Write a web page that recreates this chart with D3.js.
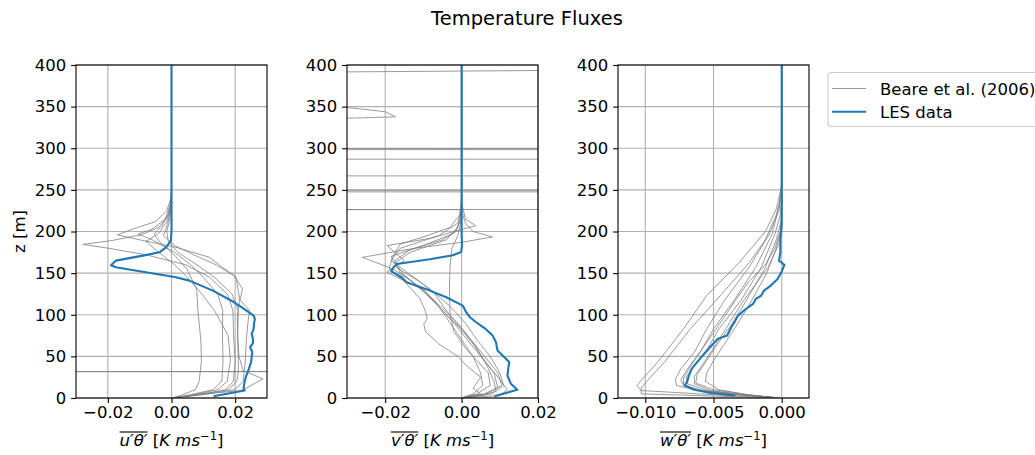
<!DOCTYPE html>
<html><head><meta charset="utf-8">
<script src="https://cdn.jsdelivr.net/npm/d3@7"></script>
<style>body{margin:0;background:#fff;} svg{display:block;font-family:"DejaVu Sans",sans-serif;}</style>
</head><body><svg id="c" width="1035" height="455"></svg>
<script>
// ---------- data ----------
const title = "Temperature Fluxes";
const zTicks = [0,50,100,150,200,250,300,350,400];
const uTicks = [-0.02,0.00,0.02];
const vTicks = [-0.02,0.00,0.02];
const wTicks = [-0.010,-0.005,0.000];
const uDomain = [-0.03,0.03];
const vDomain = [-0.03,0.02];
const wDomain = [-0.012,0.002];
const legendLabels = ["Beare et al. (2006)","LES data"];

// LES profiles [z, flux]
const lesU = [[2,0.0132],[9,0.023],[11,0.0226],[20,0.023],[27,0.0235],[35,0.0243],[43,0.025],[50,0.0252],[55,0.0254],[61,0.0247],[66,0.0256],[71,0.0256],[77,0.0252],[83,0.0258],[89,0.0259],[95,0.0262],[99,0.0258],[107,0.0228],[115,0.0197],[129,0.013],[141,0.0056],[145,0.0014],[157,-0.0175],[159.4,-0.019],[165,-0.0175],[171,-0.009],[175,-0.0038],[181,-0.0017],[189,-0.0002],[200,0],[400,0]];
const lesV = [[2.2,0.0086],[9.8,0.0146],[17,0.0129],[27,0.012],[35,0.0122],[43,0.0125],[49,0.0112],[57,0.0094],[67,0.009],[75,0.0081],[84,0.006],[91,0.0038],[97,0.0022],[103,0.0012],[111,0.0003],[121,-0.004],[129,-0.0083],[139,-0.0144],[145,-0.0157],[152,-0.0184],[156,-0.018],[161,-0.017],[166.6,-0.0083],[171.4,-0.0023],[175.4,-0.0001],[183.5,0.0001],[200,0],[400,0]];
const lesW = [[3,-0.0034],[6,-0.0052],[10,-0.0064],[15,-0.0071],[21,-0.0069],[27,-0.0068],[35,-0.0066],[47,-0.006],[60,-0.0053],[71,-0.0047],[75,-0.004],[85,-0.0037],[93,-0.0034],[99,-0.0032],[106,-0.0027],[113,-0.0021],[119,-0.0019],[123,-0.0015],[129,-0.0013],[135,-0.0008],[143,-0.0003],[152,0],[160,0.0002],[165,-0.0002],[175,-0.0001],[190,-0.0001],[210,0],[400,0]];

// Beare et al. (2006) profiles [z, flux]
const beareU1 = [[0,0.0005],[4,0.008],[9,0.022],[15,0.025],[23,0.0287],[33,0.0225],[50,0.0212],[70,0.0208],[99,0.0207],[115,0.0213],[131,0.0223],[147,0.0197],[160,0.014],[172,0.007],[183,0.001],[195,-0.0025],[210,-0.0012],[228,-0.0002],[245,0],[400,0]];
const beareU2 = [[0,0.0003],[4,0.009],[10,0.017],[20,0.0195],[45,0.020],[75,0.0195],[105,0.0193],[125,0.0175],[145,0.012],[160,0.0045],[172,-0.008],[180,-0.02],[184.5,-0.0278],[189,-0.019],[196,-0.0095],[205,-0.004],[218,-0.0012],[235,-0.0002],[250,0],[400,0]];
const beareU3 = [[0,0.0003],[4,0.0035],[10,0.0075],[20,0.0087],[45,0.0094],[70,0.0092],[105,0.0083],[131,0.0079],[155,0.0048],[171,0.0011],[187,-0.0036],[197,-0.0055],[207,-0.003],[222,-0.0008],[240,0],[400,0]];
const beareU4 = [[0,0.0004],[4,0.006],[10,0.013],[20,0.0158],[45,0.0162],[75,0.016],[105,0.0161],[125,0.0145],[145,0.01],[160,0.006],[175,0.001],[190,-0.006],[197,-0.0105],[203,-0.006],[215,-0.002],[232,-0.0004],[248,0],[400,0]];
const beareU5 = [[0,0.0004],[4,0.01],[10,0.02],[20,0.0225],[45,0.0232],[70,0.0235],[90,0.024],[105,0.0245],[118,0.0215],[128,0.021],[145,0.0203],[157,0.016],[169,0.0119],[181,0.0014],[190,-0.010],[196,-0.017],[203,-0.012],[212,-0.005],[225,-0.0015],[240,-0.0002],[250,0],[400,0]];
const beareU6 = [[0,0.0004],[4,0.007],[10,0.0145],[20,0.0175],[45,0.0185],[75,0.0178],[105,0.0135],[125,0.0095],[145,0.005],[160,0.001],[175,-0.004],[188,-0.008],[198,-0.004],[212,-0.0015],[230,0],[400,0]];
const beareU7 = [[0,0.0004],[4,0.008],[10,0.018],[20,0.0205],[31.66,0.021],[31.68,-0.5],[31.72,0.5],[31.74,0.021],[45,0.021],[75,0.0208],[105,0.021],[125,0.019],[145,0.0135],[160,0.008],[175,0.002],[188,-0.001],[200,-0.0015],[215,-0.0005],[235,0],[400,0]];

const beareV1 = [[0,0],[3,0.005],[8,0.009],[20,0.0085],[40,0.0065],[60,0.004],[80,0.0005],[100,-0.004],[120,-0.008],[140,-0.013],[155,-0.018],[169,-0.026],[180,-0.012],[187,0.0],[193.5,0.0081],[200,0.003],[210,0.001],[225,0],[400,0]];
const beareV2 = [[0,0],[5,0.006],[15,0.0105],[30,0.0095],[50,0.006],[70,0.0025],[90,-0.001],[110,-0.0055],[130,-0.010],[151,-0.0196],[165,-0.015],[183,-0.0195],[192,-0.008],[200,-0.002],[207,0.0037],[215,0.001],[235,0],[400,0]];
const beareV3 = [[0,0],[5,0.004],[15,0.0075],[30,0.007],[45,0.004],[60,0.001],[80,-0.002],[100,-0.003],[130,-0.0032],[160,-0.003],[180,-0.0025],[195,-0.001],[215,0],[400,0]];
const beareV4 = [[0,0],[5,0.005],[12,0.003],[25,0.005],[40,0.001],[50,-0.001],[65,-0.006],[80,-0.0095],[89,-0.0099],[95,-0.009],[105,-0.0095],[120,-0.011],[140,-0.015],[155,-0.019],[170,-0.018],[185,-0.016],[195,-0.009],[205,-0.003],[220,-0.0005],[240,0],[400,0]];
const beareV5 = [[0,0],[5,0.008],[15,0.011],[30,0.01],[50,0.0075],[70,0.004],[90,0.001],[110,-0.003],[130,-0.008],[150,-0.014],[165,-0.0185],[180,-0.016],[195,-0.006],[210,-0.001],[230,0],[400,0]];
const beareV6 = [[0,0],[5,0.003],[15,0.0055],[30,0.005],[50,0.003],[70,0.0],[90,-0.003],[110,-0.006],[130,-0.01],[150,-0.016],[162,-0.0175],[175,-0.0135],[190,-0.004],[205,-0.001],[225,0],[400,0]];
const beareV7 = [[0,0],[3,0.01],[10,0.012],[25,0.0095],[45,0.006],[65,0.003],[85,-0.0005],[105,-0.004],[125,-0.007],[140,-0.011],[155,-0.0165],[170,-0.0185],[185,-0.009],[198,-0.002],[215,0],[400,0]];
// profile with spurious values above the boundary layer (null = gap)
const beareV8 = [[0,0],[4,0.006],[12,0.0095],[30,0.0085],[50,0.005],[70,0.0015],[90,-0.002],[110,-0.006],[130,-0.0105],[150,-0.0155],[165,-0.0175],[178,-0.0135],[190,-0.005],[200,-0.0015],[215,-0.0003],[226.3,0],[226.35,-1],[226.45,1],[247.55,1],[247.65,-1],[249.55,-1],[249.65,1],[266.75,1],[266.85,-1],[286.85,-1],[286.95,1],[298.25,1],[298.35,-1],[299.65,-1],[299.75,1],[300,null],[364.5,-0.06],[343.8,-0.0199],[337.8,-0.0173],[331.75,-0.06],[340,null],[391.4,-0.04],[393.7,0.03]];

const beareW1 = [[0,-0.0003],[3,-0.0040],[9,-0.0103],[15,-0.0106],[23,-0.0102],[43,-0.0091],[83,-0.0072],[123,-0.0055],[163,-0.0031],[200,-0.0012],[227,-0.0004],[255,0],[400,0]];
const beareW2 = [[0,-0.0003],[5,-0.0103],[12,-0.0103],[20,-0.0099],[43,-0.0086],[83,-0.0067],[123,-0.0045],[160,-0.0025],[190,-0.0012],[220,-0.0004],[245,0],[400,0]];
const beareW3 = [[0,-0.0002],[4,-0.003],[9,-0.0062],[15,-0.0077],[22,-0.0078],[35,-0.0074],[55,-0.0064],[83,-0.0055],[117,-0.0042],[157,-0.0024],[197,-0.0009],[225,-0.0002],[250,0],[400,0]];
const beareW4 = [[0,-0.0002],[4,-0.0035],[9,-0.0060],[16,-0.0072],[24,-0.0072],[40,-0.0066],[60,-0.0058],[83,-0.0050],[117,-0.0035],[157,-0.0019],[197,-0.0007],[230,-0.0002],[260,0],[400,0]];
const beareW5 = [[0,-0.0002],[4,-0.003],[9,-0.0055],[17,-0.0069],[25,-0.0070],[40,-0.0064],[60,-0.0054],[83,-0.0046],[117,-0.0030],[157,-0.0015],[197,-0.0005],[220,-0.0001],[240,0],[400,0]];
const beareW6 = [[0,-0.0002],[4,-0.0025],[10,-0.0050],[18,-0.0063],[28,-0.0062],[45,-0.0055],[65,-0.0047],[90,-0.0036],[117,-0.0026],[157,-0.0012],[190,-0.0004],[215,0],[400,0]];
const beareW7 = [[0,-0.0002],[4,-0.0025],[10,-0.0046],[20,-0.0056],[30,-0.0055],[45,-0.0050],[65,-0.0042],[90,-0.0032],[117,-0.0022],[150,-0.0011],[180,-0.0004],[205,0],[400,0]];
const beareW8 = [[0,-0.0002],[4,-0.003],[9,-0.0058],[15,-0.0072],[22,-0.0074],[35,-0.0069],[55,-0.0060],[83,-0.0048],[117,-0.0034],[140,-0.0024],[160,-0.0012],[180,-0.0005],[200,-0.0001],[225,0],[400,0]];
const beareW9 = [[0,-0.0002],[4,-0.0028],[9,-0.0052],[17,-0.0064],[26,-0.0064],[40,-0.0058],[60,-0.0050],[83,-0.0041],[117,-0.0028],[157,-0.0010],[185,-0.0002],[200,0],[400,0]];

// ---------- drawing ----------
const svg = d3.select("#c");
const FS = 16.5;
const yTop = 65, yBot = 398;
const y = d3.scaleLinear().domain([0,400]).range([yBot,yTop]);

const panels = [
  {x0:76, x1:267, domain:uDomain, ticks:uTicks, fmt:d3.format(".2f"), grey:[beareU1,beareU2,beareU3,beareU4,beareU5,beareU6,beareU7], les:lesU, sym:"u"},
  {x0:347, x1:538, domain:vDomain, ticks:vTicks, fmt:d3.format(".2f"), grey:[beareV1,beareV2,beareV3,beareV4,beareV5,beareV6,beareV7,beareV8], les:lesV, sym:"v"},
  {x0:618, x1:809, domain:wDomain, ticks:wTicks, fmt:d3.format(".3f"), grey:[beareW1,beareW2,beareW3,beareW4,beareW5,beareW6,beareW7,beareW8,beareW9], les:lesW, sym:"w"}
];

const GRID = "#b0b0b0", GREY = "#808080", BLUE = "#1f77b4";

panels.forEach((p,i) => {
  const x = d3.scaleLinear().domain(p.domain).range([p.x0,p.x1]);
  const g = svg.append("g");
  const cid = "clip"+i;
  svg.append("clipPath").attr("id",cid).append("rect")
    .attr("x",p.x0).attr("y",yTop).attr("width",p.x1-p.x0).attr("height",yBot-yTop);

  // grid
  const grid = g.append("g");
  grid.selectAll("line.gx").data(p.ticks).join("line").attr("class","gx")
    .attr("x1",d=>x(d)).attr("x2",d=>x(d)).attr("y1",yTop).attr("y2",yBot)
    .attr("stroke",GRID).attr("stroke-width",1.1);
  grid.selectAll("line.gy").data(zTicks).join("line").attr("class","gy")
    .attr("x1",p.x0).attr("x2",p.x1).attr("y1",d=>y(d)).attr("y2",d=>y(d))
    .attr("stroke",GRID).attr("stroke-width",1.1);

  const line = d3.line().defined(d=>d[1]!==null).x(d=>x(d[1])).y(d=>y(d[0]));
  const lines = g.append("g").attr("clip-path",`url(#${cid})`);
  lines.selectAll("path.grey").data(p.grey).join("path").attr("class","grey")
    .attr("d",line).attr("fill","none").attr("stroke",GREY).attr("stroke-width",0.8);
  lines.append("path").datum(p.les).attr("d",line).attr("fill","none")
    .attr("stroke",BLUE).attr("stroke-width",2.1).attr("stroke-linejoin","round");

  // axes
  const xAxis = d3.axisBottom(x).tickValues(p.ticks).tickFormat(p.fmt).tickSizeOuter(0).tickSize(4.9).tickPadding(3.2);
  const gx = g.append("g").attr("transform",`translate(0,${yBot})`).call(xAxis);
  gx.select(".domain").remove();
  gx.selectAll("text").attr("font-size",FS).attr("font-family","DejaVu Sans").attr("fill","#000");
  gx.selectAll("line").attr("stroke","#000").attr("stroke-width",1.1);

  const yAxis = d3.axisLeft(y).tickValues(zTicks).tickFormat(d3.format("d")).tickSizeOuter(0).tickSize(4.9).tickPadding(4.9);
  const gy = g.append("g").attr("transform",`translate(${p.x0},0)`).call(yAxis);
  gy.select(".domain").remove();
  gy.selectAll("text").attr("font-size",FS).attr("font-family","DejaVu Sans").attr("fill","#000");
  gy.selectAll("line").attr("stroke","#000").attr("stroke-width",1.1);

  // spines
  g.append("rect").attr("x",p.x0).attr("y",yTop).attr("width",p.x1-p.x0).attr("height",yBot-yTop)
    .attr("fill","none").attr("stroke","#000").attr("stroke-width",1.1);

  // x label
  const cx = (p.x0+p.x1)/2, by = 446;
  const t = g.append("text").attr("y",by).attr("font-size",FS).attr("fill","#000");
  t.append("tspan").attr("font-style","italic").text(p.sym+"\u2032\u03b8\u2032");
  t.append("tspan").text(" [");
  t.append("tspan").attr("font-style","italic").text("K ms");
  t.append("tspan").attr("font-size",FS*0.7).attr("dy",-6.5).text("\u22121");
  t.append("tspan").attr("dy",6.5).text("]");
  const w = t.node().getComputedTextLength();
  t.attr("x",cx-w/2);
  const n = t.node();
  const sx = n.getStartPositionOfChar(0).x, ex = n.getEndPositionOfChar(3).x;
  g.append("line").attr("x1",sx).attr("x2",ex).attr("y1",by-14).attr("y2",by-14)
    .attr("stroke","#000").attr("stroke-width",1.1);
});

// y label
svg.append("text").attr("transform","translate(25,231.5) rotate(-90)").attr("text-anchor","middle")
  .attr("font-size",FS).text("z [m]");

// title
svg.append("text").attr("x",527).attr("y",25).attr("text-anchor","middle").attr("font-size",19.5).text(title);

// legend
const lg = svg.append("g");
lg.append("rect").attr("x",828).attr("y",72.5).attr("width",220).attr("height",54).attr("rx",3)
  .attr("fill","#fff").attr("stroke","#cccccc").attr("stroke-width",1.1);
const legendStyles = [{c:GREY,w:0.8},{c:BLUE,w:2.1}];
legendLabels.forEach((lab,i)=>{
  const yy = 88.5 + i*23.2;
  lg.append("line").attr("x1",832).attr("x2",866).attr("y1",yy).attr("y2",yy)
    .attr("stroke",legendStyles[i].c).attr("stroke-width",legendStyles[i].w);
  lg.append("text").attr("x",880).attr("y",yy+6).attr("font-size",FS).text(lab);
});
</script></body></html>
